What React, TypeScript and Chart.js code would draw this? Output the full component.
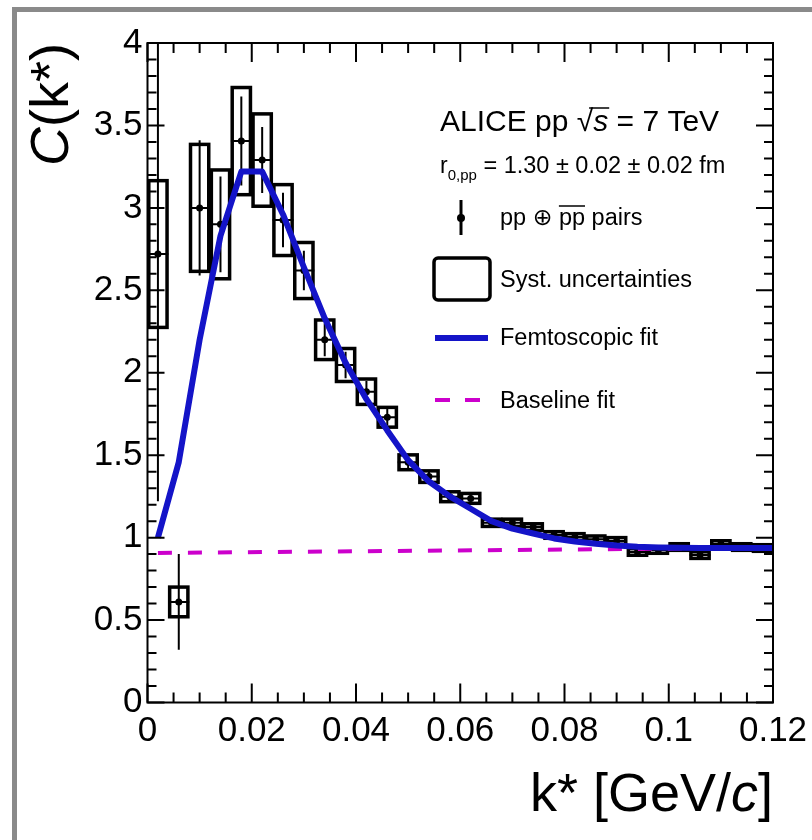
import React, { useEffect, useRef } from 'react';
import { Chart, registerables } from 'chart.js';

Chart.register(...registerables);

// ---------- data ----------
const kStar = [
  0.002, 0.006, 0.010, 0.014, 0.018, 0.022, 0.026, 0.030, 0.034, 0.038,
  0.042, 0.046, 0.050, 0.054, 0.058, 0.062, 0.066, 0.070, 0.074, 0.078,
  0.082, 0.086, 0.090, 0.094, 0.098, 0.102, 0.106, 0.110, 0.114, 0.118,
];
const cValues = [
  2.72, 0.61, 3.00, 2.90, 3.405, 3.29, 2.926, 2.62, 2.20, 2.047,
  1.885, 1.73, 1.457, 1.37, 1.248, 1.238, 1.09, 1.09, 1.064, 1.016,
  1.004, 0.99, 0.98, 0.913, 0.925, 0.943, 0.894, 0.961, 0.943, 0.937,
];
const statErr = [
  1.5, 0.29, 0.41, 0.29, 0.27, 0.2, 0.165, 0.12, 0.1, 0.08,
  0.065, 0.05, 0.04, 0.03, 0.025, 0.025, 0.02, 0.02, 0.02, 0.018,
  0.018, 0.016, 0.016, 0.016, 0.015, 0.015, 0.015, 0.015, 0.015, 0.015,
];
const sysErr = [
  0.445, 0.09, 0.385, 0.33, 0.325, 0.28, 0.215, 0.17, 0.12, 0.1,
  0.077, 0.06, 0.045, 0.035, 0.03, 0.03, 0.022, 0.022, 0.02, 0.02,
  0.02, 0.02, 0.02, 0.02, 0.02, 0.02, 0.02, 0.02, 0.02, 0.02,
];
const fitK = [
  0.002, 0.006, 0.010, 0.014, 0.018, 0.022, 0.026, 0.030, 0.034, 0.038,
  0.042, 0.046, 0.050, 0.054, 0.058, 0.062, 0.066, 0.070, 0.074, 0.078,
  0.082, 0.086, 0.090, 0.094, 0.098, 0.102, 0.106, 0.110, 0.114, 0.118, 0.120,
];
const fitValues = [
  1.0, 1.458, 2.2, 2.83, 3.22, 3.22, 2.96, 2.64, 2.33, 2.06,
  1.84, 1.65, 1.47, 1.34, 1.25, 1.175, 1.10, 1.055, 1.025, 0.995,
  0.977, 0.963, 0.952, 0.944, 0.94, 0.938, 0.937, 0.937, 0.937, 0.937, 0.937,
];
const baselineK = [0.002, 0.12];
const baselineValues = [0.907, 0.938];

const xTickValues = [0, 0.02, 0.04, 0.06, 0.08, 0.1, 0.12];
const yTickValues = [0, 0.5, 1, 1.5, 2, 2.5, 3, 3.5, 4];
const xMinorStep = 0.005;
const yMinorStep = 0.1;

// ---------- style ----------
const FONT = '"Liberation Sans", Arial, Helvetica, "DejaVu Sans", sans-serif';
const BLUE = '#1414c8';
const MAGENTA = '#cc00cc';
const BOX_HALF_WIDTH = 0.00175;
const XERR_HALF = 0.002;

const decorPlugin = {
  id: 'rootDecor',
  beforeDatasetsDraw(chart: any) {
    const { ctx, chartArea, scales } = chart;
    const xs = scales.x;
    const ys = scales.y;
    ctx.save();
    ctx.beginPath();
    ctx.rect(chartArea.left, chartArea.top, chartArea.right - chartArea.left, chartArea.bottom - chartArea.top);
    ctx.clip();
    // systematic boxes
    ctx.strokeStyle = '#000';
    ctx.lineWidth = 3.5;
    kStar.forEach((k, i) => {
      const x0 = xs.getPixelForValue(k - BOX_HALF_WIDTH);
      const x1 = xs.getPixelForValue(k + BOX_HALF_WIDTH);
      const yt = ys.getPixelForValue(cValues[i] + sysErr[i]);
      const yb = ys.getPixelForValue(cValues[i] - sysErr[i]);
      ctx.strokeRect(x0, yt, x1 - x0, yb - yt);
    });
    // statistical error bars
    ctx.lineWidth = 2;
    kStar.forEach((k, i) => {
      const px = xs.getPixelForValue(k);
      const py = ys.getPixelForValue(cValues[i]);
      const yt = ys.getPixelForValue(cValues[i] + statErr[i]);
      const yb = ys.getPixelForValue(cValues[i] - statErr[i]);
      const xl = xs.getPixelForValue(k - XERR_HALF);
      const xr = xs.getPixelForValue(k + XERR_HALF);
      ctx.beginPath();
      ctx.moveTo(px, yt);
      ctx.lineTo(px, yb);
      ctx.moveTo(xl, py);
      ctx.lineTo(xr, py);
      ctx.stroke();
    });
    ctx.restore();
  },
  afterDraw(chart: any) {
    const { ctx, chartArea, scales } = chart;
    const xs = scales.x;
    const ys = scales.y;
    const L = chartArea.left, R = chartArea.right, T = chartArea.top, B = chartArea.bottom;
    ctx.save();
    ctx.strokeStyle = '#000';
    ctx.lineWidth = 2;
    ctx.strokeRect(L, T, R - L, B - T);
    // x ticks (inside, bottom and top)
    const nx = Math.round(0.12 / xMinorStep);
    for (let i = 0; i <= nx; i++) {
      const px = xs.getPixelForValue(i * xMinorStep);
      const len = i % 4 === 0 ? 19 : 10;
      ctx.beginPath();
      ctx.moveTo(px, B); ctx.lineTo(px, B - len);
      ctx.moveTo(px, T); ctx.lineTo(px, T + len);
      ctx.stroke();
    }
    const ny = Math.round(4 / yMinorStep);
    for (let i = 0; i <= ny; i++) {
      const py = ys.getPixelForValue(i * yMinorStep);
      const len = i % 5 === 0 ? 17 : 9;
      ctx.beginPath();
      ctx.moveTo(L, py); ctx.lineTo(L + len, py);
      ctx.moveTo(R, py); ctx.lineTo(R - len, py);
      ctx.stroke();
    }

    ctx.fillStyle = '#000';
    ctx.textAlign = 'left';
    ctx.textBaseline = 'alphabetic';

    // axis titles
    {
      const fs = 54;
      ctx.font = `italic ${fs}px ${FONT}`;
      const wC = ctx.measureText('C').width;
      ctx.font = `${fs}px ${FONT}`;
      const wR = ctx.measureText('(k*)').width;
      const W = wC + wR;
      ctx.save();
      ctx.translate(68, T + W);
      ctx.rotate(-Math.PI / 2);
      ctx.font = `italic ${fs}px ${FONT}`;
      ctx.fillText('C', 0, 0);
      ctx.font = `${fs}px ${FONT}`;
      ctx.fillText('(k*)', wC, 0);
      ctx.restore();
    }
    {
      const yb = 811;
      const fs = 54;
      ctx.font = `${fs}px ${FONT}`;
      const a = 'k* [GeV/';
      const wa = ctx.measureText(a).width;
      const wb2 = ctx.measureText(']').width;
      ctx.font = `italic ${fs}px ${FONT}`;
      const wc = ctx.measureText('c').width;
      const start = R - (wa + wc + wb2);
      ctx.font = `${fs}px ${FONT}`;
      ctx.fillText(a, start, yb);
      ctx.font = `italic ${fs}px ${FONT}`;
      ctx.fillText('c', start + wa, yb);
      ctx.font = `${fs}px ${FONT}`;
      ctx.fillText(']', start + wa + wc, yb);
    }

    // ALICE label
    {
      let x = 440;
      const y1 = 131;
      ctx.font = `30px ${FONT}`;
      const t1 = 'ALICE pp ';
      ctx.fillText(t1, x, y1);
      x += ctx.measureText(t1).width;
      ctx.fillText('\u221A', x, y1);
      const rw = ctx.measureText('\u221A').width;
      const sx = x + rw;
      ctx.font = `italic 30px ${FONT}`;
      ctx.fillText('s', sx, y1);
      const sw = ctx.measureText('s').width;
      ctx.lineWidth = 1.5;
      ctx.beginPath();
      ctx.moveTo(x + rw * 0.75, y1 - 23);
      ctx.lineTo(sx + sw + 1, y1 - 23);
      ctx.stroke();
      ctx.font = `30px ${FONT}`;
      ctx.fillText(' = 7 TeV', sx + sw, y1);
    }
    // radius
    {
      let x = 440;
      const y1 = 173;
      ctx.font = `23px ${FONT}`;
      ctx.fillText('r', x, y1);
      x += ctx.measureText('r').width;
      ctx.font = `15px ${FONT}`;
      ctx.fillText('0,pp', x, y1 + 7);
      x += ctx.measureText('0,pp').width;
      ctx.font = `23.5px ${FONT}`;
      ctx.fillText(' = 1.30 \u00B1 0.02 \u00B1 0.02 fm', x, y1);
    }
    // legend symbols
    ctx.lineWidth = 3;
    ctx.beginPath();
    ctx.moveTo(461, 200); ctx.lineTo(461, 235);
    ctx.stroke();
    ctx.beginPath();
    ctx.arc(461, 218, 4, 0, Math.PI * 2);
    ctx.fill();

    ctx.lineWidth = 3.5;
    ctx.beginPath();
    if (ctx.roundRect) ctx.roundRect(434, 258, 56, 42, 4);
    else ctx.rect(434, 258, 56, 42);
    ctx.stroke();

    ctx.strokeStyle = BLUE;
    ctx.lineWidth = 6;
    ctx.beginPath();
    ctx.moveTo(435, 338); ctx.lineTo(488, 338);
    ctx.stroke();

    ctx.strokeStyle = MAGENTA;
    ctx.lineWidth = 4;
    ctx.beginPath();
    ctx.moveTo(435, 400); ctx.lineTo(450, 400);
    ctx.moveTo(465, 400); ctx.lineTo(480, 400);
    ctx.stroke();

    // legend texts
    ctx.strokeStyle = '#000';
    ctx.font = `23.5px ${FONT}`;
    {
      let x = 500;
      const y1 = 225;
      const p1 = 'pp \u2295 ';
      ctx.fillText(p1, x, y1);
      x += ctx.measureText(p1).width;
      const wpp = ctx.measureText('pp').width;
      ctx.fillText('pp', x, y1);
      ctx.lineWidth = 1.5;
      ctx.beginPath();
      ctx.moveTo(x, y1 - 19); ctx.lineTo(x + wpp, y1 - 19);
      ctx.stroke();
      x += wpp;
      ctx.fillText(' pairs', x, y1);
    }
    ctx.fillText('Syst. uncertainties', 500, 287);
    ctx.fillText('Femtoscopic fit', 500, 345);
    ctx.fillText('Baseline fit', 500, 408);
    ctx.restore();
  },
};

export default function App() {
  const canvasRef = useRef<HTMLCanvasElement | null>(null);

  useEffect(() => {
    const canvas = canvasRef.current;
    if (!canvas) return;
    const chart = new Chart(canvas, {
      type: 'scatter',
      data: {
        datasets: [
          {
            type: 'line',
            label: 'Femtoscopic fit',
            data: fitK.map((k, i) => ({ x: k, y: fitValues[i] })),
            borderColor: BLUE,
            backgroundColor: BLUE,
            borderWidth: 6,
            pointRadius: 0,
            tension: 0,
            fill: false,
            borderJoinStyle: 'round',
          } as any,
          {
            type: 'line',
            label: 'Baseline fit',
            data: baselineK.map((k, i) => ({ x: k, y: baselineValues[i] })),
            borderColor: MAGENTA,
            backgroundColor: MAGENTA,
            borderWidth: 4,
            borderDash: [14, 16],
            pointRadius: 0,
            tension: 0,
            fill: false,
          } as any,
          {
            type: 'scatter',
            label: 'pp pairs',
            data: kStar.map((k, i) => ({ x: k, y: cValues[i] })),
            backgroundColor: '#000',
            borderColor: '#000',
            pointRadius: 3.5,
            borderWidth: 0,
          } as any,
        ],
      },
      options: {
        animation: false,
        responsive: false,
        devicePixelRatio: 1,
        layout: { padding: { left: 0, right: 39, top: 43, bottom: 0 } },
        plugins: { legend: { display: false }, tooltip: { enabled: false } },
        scales: {
          x: {
            type: 'linear',
            min: 0,
            max: 0.12,
            grid: { display: false, drawTicks: false },
            border: { display: false },
            ticks: {
              autoSkip: false,
              maxRotation: 0,
              padding: 8,
              color: '#000',
              font: { family: FONT, size: 35 },
              callback: (v: any) => String(+Number(v).toFixed(3)),
            },
            afterBuildTicks: (scale: any) => {
              scale.ticks = xTickValues.map((v) => ({ value: v }));
            },
            afterFit: (scale: any) => {
              scale.height = 137.5;
              scale.paddingLeft = 0;
              scale.paddingRight = 0;
            },
          },
          y: {
            type: 'linear',
            min: 0,
            max: 4,
            grid: { display: false, drawTicks: false },
            border: { display: false },
            ticks: {
              autoSkip: false,
              padding: 5,
              color: '#000',
              font: { family: FONT, size: 35 },
              callback: (v: any) => String(+Number(v).toFixed(2)),
            },
            afterBuildTicks: (scale: any) => {
              scale.ticks = yTickValues.map((v) => ({ value: v }));
            },
            afterFit: (scale: any) => {
              scale.width = 147.5;
              scale.paddingTop = 0;
              scale.paddingBottom = 0;
            },
          },
        },
      } as any,
      plugins: [decorPlugin],
    });
    return () => chart.destroy();
  }, []);

  return (
    <div style={{ position: 'absolute', left: 0, top: 0, width: 812, height: 840, background: '#fff', overflow: 'hidden' }}>
      <canvas ref={canvasRef} width={812} height={840} style={{ position: 'absolute', left: 0, top: 0, width: 812, height: 840 }} />
      <div style={{ position: 'absolute', left: 12, top: 7, width: 5, height: 833, background: '#8a8a8a' }} />
      <div style={{ position: 'absolute', left: 12, top: 7, width: 800, height: 5, background: '#8a8a8a' }} />
    </div>
  );
}
